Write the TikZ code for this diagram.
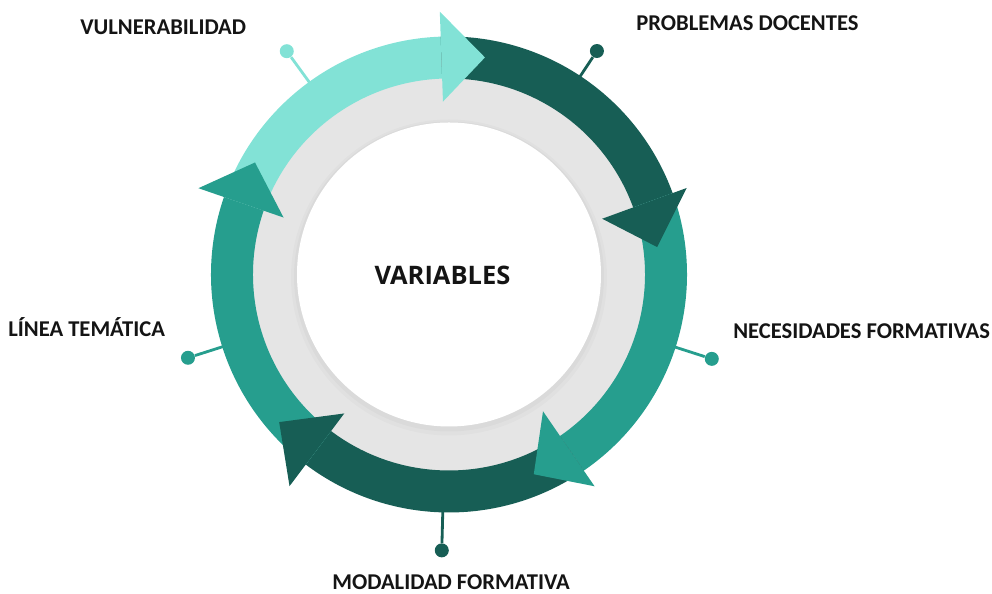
\documentclass[tikz,border=0pt]{standalone}
\usepackage{fontspec}
\setmainfont{Carlito}
\newfontfamily\titlefont{Open Sans}
\definecolor{lightteal}{RGB}{130, 226, 214}
\definecolor{darkteal}{RGB}{23, 94, 85}
\definecolor{midteal}{RGB}{38, 158, 142}
\definecolor{ringgray}{RGB}{229, 229, 229}
\definecolor{labelblack}{RGB}{20, 20, 20}
\usetikzlibrary{calc}
\tikzset{
  varlabel/.style={font=\fontsize{12.85}{14}\selectfont\bfseries, text=labelblack, inner sep=0pt, anchor=base west},
  pindot/.style={circle, inner sep=0pt, minimum size=0.28cm},
  pinline/.style={line width=1.6pt}
}

\begin{document}
\begin{tikzpicture}[x=0.02cm, y=0.02cm]
  \useasboundingbox (0, 0) rectangle (992, 594);
  \begin{scope}[shift={(449, 319.5)}]
    % background disks, soft shadow round the inner one
    \fill[ringgray] (0, 0) circle[radius=200];
    \fill[black, opacity=0.02] (0, -3) circle[radius=158];
    \fill[black, opacity=0.025] (0, -2) circle[radius=155];
    \fill[white] (0, 0) circle[radius=152];
    \node[font=\titlefont\fontsize{14.5}{16}\selectfont\bfseries, text=labelblack, inner sep=0pt, anchor=base] (title) at (-6.5, -10.5) {VARIABLES};

    % arrow bands
    \fill[lightteal] (161:238) arc[start angle=161, end angle=92, radius=238] -- (92:196) arc[start angle=92, end angle=161, radius=196] -- cycle;
    \fill[darkteal] (92:238) arc[start angle=92, end angle=20, radius=238] -- (20:196) arc[start angle=20, end angle=92, radius=196] -- cycle;
    \fill[midteal] (20:238) arc[start angle=20, end angle=-55.5, radius=238] -- (-55.5:196) arc[start angle=-55.5, end angle=20, radius=196] -- cycle;
    \fill[darkteal] (-55.5:238) arc[start angle=-55.5, end angle=-127, radius=238] -- (-127:196) arc[start angle=-127, end angle=-55.5, radius=196] -- cycle;
    \fill[midteal] (-127:238) arc[start angle=-127, end angle=-199, radius=238] -- (-199:196) arc[start angle=-199, end angle=-127, radius=196] -- cycle;

    % arrow heads
    \fill[lightteal] (92:263) -- (92:173) -- (80.6:220) -- cycle;
    \fill[darkteal] (20:253) -- (20:163) -- (7.5:210) -- cycle;
    \fill[midteal] (-55.5:257) -- (-55.5:166) -- (-67:217) -- cycle;
    \fill[darkteal] (-127:265) -- (-127:174) -- (-139:225) -- cycle;
    \fill[midteal] (161:265) -- (161:175) -- (150:224) -- cycle;

    % pins
    \coordinate (pvul) at (126:236);
    \node[pindot, fill=lightteal] (dvul) at (126:276) {};
    \draw[pinline, lightteal] (pvul) -- (dvul);

    \coordinate (ppro) at (56.5:236);
    \node[pindot, fill=darkteal] (dpro) at (56.5:268) {};
    \draw[pinline, darkteal] (ppro) -- (dpro);

    \coordinate (pnec) at (-17.8:236);
    \node[pindot, fill=midteal] (dnec) at (-17.8:276) {};
    \draw[pinline, midteal] (pnec) -- (dnec);

    \coordinate (pmod) at (-91.5:236);
    \node[pindot, fill=darkteal] (dmod) at (-91.5:276) {};
    \draw[pinline, darkteal] (pmod) -- (dmod);

    \coordinate (plin) at (-162.3:236);
    \node[pindot, fill=midteal] (dlin) at (-162.3:274) {};
    \draw[pinline, midteal] (plin) -- (dlin);
  \end{scope}

  % labels
  \node[varlabel] (vul) at (80, 559.5) {VULNERABILIDAD};
  \node[varlabel] (pro) at (636, 563.5) {PROBLEMAS DOCENTES};
  \node[varlabel] (nec) at (733, 255.5) {NECESIDADES FORMATIVAS};
  \node[varlabel] (lin) at (8, 257.5) {LÍNEA TEMÁTICA};
  \node[varlabel] (mod) at (332, 4.5) {MODALIDAD FORMATIVA};
\end{tikzpicture}
\end{document}
